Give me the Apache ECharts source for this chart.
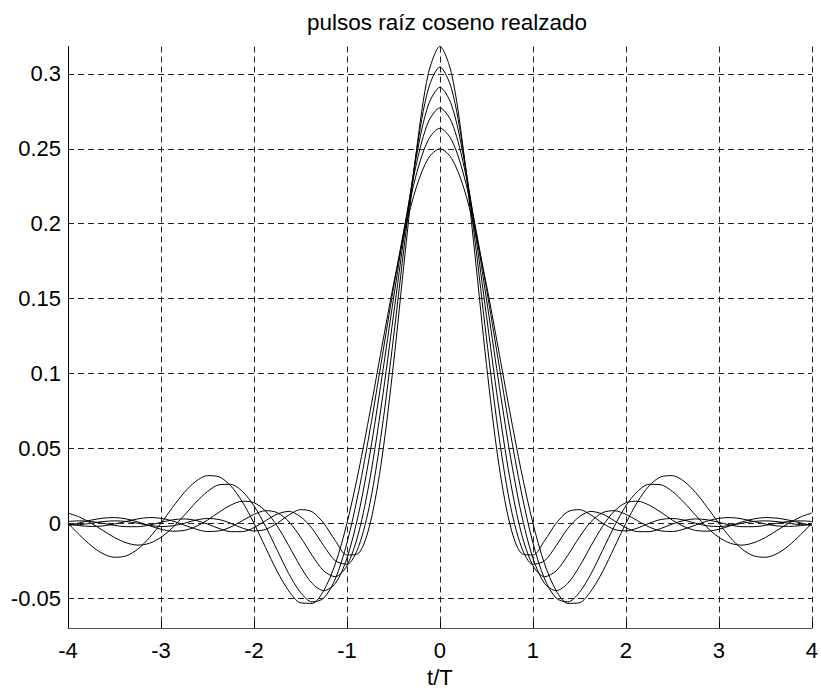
<!DOCTYPE html>
<html>
<head>
<meta charset="utf-8">
<script src="https://cdn.jsdelivr.net/npm/echarts@6/dist/echarts.min.js"></script>
<style>
html,body{margin:0;padding:0;background:#fff;}
#chart{width:821px;height:693px;}
</style>
</head>
<body>
<div id="chart"></div>
<script>
// t/T sample positions
const tValues = [-4, -3.875, -3.75, -3.625, -3.5, -3.375, -3.25, -3.125, -3, -2.875, -2.75, -2.625, -2.5, -2.375, -2.25, -2.125, -2, -1.875, -1.75, -1.625, -1.5, -1.375, -1.25, -1.125, -1, -0.875, -0.75, -0.625, -0.5, -0.375, -0.25, -0.125, 0, 0.125, 0.25, 0.375, 0.5, 0.625, 0.75, 0.875, 1, 1.125, 1.25, 1.375, 1.5, 1.625, 1.75, 1.875, 2, 2.125, 2.25, 2.375, 2.5, 2.625, 2.75, 2.875, 3, 3.125, 3.25, 3.375, 3.5, 3.625, 3.75, 3.875, 4];

// pulse values (roll-off 0, 0.2, 0.4, 0.6, 0.8, 1)
const pulseR00 = [0, -0.0079, -0.0150, -0.0203, -0.0227, -0.0218, -0.0173, -0.0097, 0, 0.0106, 0.0205, 0.0280, 0.0318, 0.0310, 0.0250, 0.0143, 0, -0.0162, -0.0322, -0.0452, -0.0531, -0.0535, -0.0450, -0.0271, 0, 0.0348, 0.0750, 0.1176, 0.1592, 0.1961, 0.2251, 0.2436, 0.2500, 0.2436, 0.2251, 0.1961, 0.1592, 0.1176, 0.0750, 0.0348, 0, -0.0271, -0.0450, -0.0535, -0.0531, -0.0452, -0.0322, -0.0162, 0, 0.0143, 0.0250, 0.0310, 0.0318, 0.0280, 0.0205, 0.0106, 0, -0.0097, -0.0173, -0.0218, -0.0227, -0.0203, -0.0150, -0.0079, 0];
const pulseR02 = [0.0068, 0.0041, 0, -0.0048, -0.0095, -0.0130, -0.0146, -0.0134, -0.0094, -0.0029, 0.0053, 0.0139, 0.0212, 0.0257, 0.0260, 0.0213, 0.0116, -0.0021, -0.0180, -0.0337, -0.0462, -0.0525, -0.0500, -0.0371, -0.0131, 0.0210, 0.0631, 0.1097, 0.1568, 0.1996, 0.2339, 0.2560, 0.2637, 0.2560, 0.2339, 0.1996, 0.1568, 0.1097, 0.0631, 0.0210, -0.0131, -0.0371, -0.0500, -0.0525, -0.0462, -0.0337, -0.0180, -0.0021, 0.0116, 0.0213, 0.0260, 0.0257, 0.0212, 0.0139, 0.0053, -0.0029, -0.0094, -0.0134, -0.0146, -0.0130, -0.0095, -0.0048, 0, 0.0041, 0.0068];
const pulseR04 = [-0.0015, 0.0003, 0.0021, 0.0034, 0.0038, 0.0029, 0.0009, -0.0016, -0.0040, -0.0053, -0.0048, -0.0022, 0.0021, 0.0074, 0.0121, 0.0147, 0.0137, 0.0081, -0.0019, -0.0150, -0.0289, -0.0401, -0.0450, -0.0402, -0.0233, 0.0064, 0.0476, 0.0971, 0.1498, 0.1997, 0.2408, 0.2679, 0.2773, 0.2679, 0.2408, 0.1997, 0.1498, 0.0971, 0.0476, 0.0064, -0.0233, -0.0402, -0.0450, -0.0401, -0.0289, -0.0150, -0.0019, 0.0081, 0.0137, 0.0147, 0.0121, 0.0074, 0.0021, -0.0022, -0.0048, -0.0053, -0.0040, -0.0016, 0.0009, 0.0029, 0.0038, 0.0034, 0.0021, 0.0003, -0.0015];
const pulseR06 = [-0.0004, -0.0016, -0.0021, -0.0018, -0.0005, 0.0012, 0.0029, 0.0038, 0.0033, 0.0015, -0.0012, -0.0039, -0.0055, -0.0051, -0.0025, 0.0017, 0.0059, 0.0084, 0.0071, 0.0011, -0.0092, -0.0214, -0.0318, -0.0357, -0.0283, -0.0065, 0.0307, 0.0808, 0.1386, 0.1964, 0.2459, 0.2792, 0.2910, 0.2792, 0.2459, 0.1964, 0.1386, 0.0808, 0.0307, -0.0065, -0.0283, -0.0357, -0.0318, -0.0214, -0.0092, 0.0011, 0.0071, 0.0084, 0.0059, 0.0017, -0.0025, -0.0051, -0.0055, -0.0039, -0.0012, 0.0015, 0.0033, 0.0038, 0.0029, 0.0012, -0.0005, -0.0018, -0.0021, -0.0016, -0.0004];
const pulseR08 = [0.0012, 0.0016, 0.0012, 0.0000, -0.0014, -0.0023, -0.0023, -0.0012, 0.0006, 0.0023, 0.0029, 0.0019, -0.0005, -0.0035, -0.0056, -0.0056, -0.0029, 0.0017, 0.0061, 0.0079, 0.0044, -0.0035, -0.0150, -0.0251, -0.0274, -0.0156, 0.0142, 0.0622, 0.1237, 0.1898, 0.2490, 0.2900, 0.3046, 0.2900, 0.2490, 0.1898, 0.1237, 0.0622, 0.0142, -0.0156, -0.0274, -0.0251, -0.0150, -0.0035, 0.0044, 0.0079, 0.0061, 0.0017, -0.0029, -0.0056, -0.0056, -0.0035, -0.0005, 0.0019, 0.0029, 0.0023, 0.0006, -0.0012, -0.0023, -0.0023, -0.0014, 0.0000, 0.0012, 0.0016, 0.0012];
const pulseR10 = [-0.0012, -0.0009, 0, 0.0011, 0.0016, 0.0012, 0, -0.0014, -0.0022, -0.0017, 0, 0.0021, 0.0032, 0.0025, 0, -0.0032, -0.0051, -0.0041, 0, 0.0055, 0.0091, 0.0077, 0, -0.0117, -0.0212, -0.0200, 0, 0.0429, 0.1061, 0.1801, 0.2500, 0.3001, 0.3183, 0.3001, 0.2500, 0.1801, 0.1061, 0.0429, 0, -0.0200, -0.0212, -0.0117, 0, 0.0077, 0.0091, 0.0055, 0, -0.0041, -0.0051, -0.0032, 0, 0.0025, 0.0032, 0.0021, 0, -0.0017, -0.0022, -0.0014, 0, 0.0012, 0.0016, 0.0011, 0, -0.0009, -0.0012];

const yTicks = [-0.05, 0, 0.05, 0.1, 0.15, 0.2, 0.25, 0.3];
const xTicks = [-4, -3, -2, -1, 0, 1, 2, 3, 4];

const FONT = 'Liberation Sans, Arial, Helvetica, sans-serif';
const allSeries = [pulseR00, pulseR02, pulseR04, pulseR06, pulseR08, pulseR10];

const series = allSeries.map((vals, i) => {
  const s = {
    type: 'line',
    data: tValues.map((t, j) => [t, vals[j]]),
    showSymbol: false,
    symbol: 'none',
    smooth: 0.3,
    lineStyle: { color: '#000', width: 1 },
    silent: true,
    animation: false,
    z: 3
  };
  if (i === 0) {
    s.markLine = {
      silent: true,
      symbol: ['none', 'none'],
      animation: false,
      label: { show: false },
      lineStyle: { color: '#222', width: 1, type: [6, 4] },
      data: yTicks.map(v => ({ yAxis: v }))
    };
  }
  return s;
});

const chart = echarts.init(document.getElementById('chart'), null, { renderer: 'svg' });
chart.setOption({
  animation: false,
  backgroundColor: '#fff',
  title: {
    text: 'pulsos raíz coseno realzado',
    left: 442,
    top: 6,
    textAlign: 'center',
    textStyle: { fontFamily: FONT, fontSize: 22.5, fontWeight: 'normal', color: '#000' }
  },
  grid: { left: 68, right: 8, top: 46.5, bottom: 58, containLabel: false },
  xAxis: {
    type: 'value',
    min: -4, max: 4, interval: 1,
    name: 't/T',
    nameLocation: 'middle',
    nameGap: 35,
    nameTextStyle: { fontFamily: FONT, fontSize: 22, color: '#000' },
    axisLine: { show: true, onZero: false, lineStyle: { color: '#555', width: 1 } },
    axisTick: { show: true, inside: true, length: 6, lineStyle: { color: '#000' } },
    axisLabel: { fontFamily: FONT, fontSize: 22, color: '#000', margin: 11, formatter: v => String(v) },
    splitLine: { show: true, lineStyle: { color: '#222', width: 1, type: [6, 4] } }
  },
  yAxis: {
    type: 'value',
    min: -0.07, max: 0.3183,
    axisLine: { show: true, onZero: false, lineStyle: { color: '#000', width: 1 } },
    axisTick: { show: true, inside: true, length: 6, customValues: yTicks, lineStyle: { color: '#000' } },
    axisLabel: { fontFamily: FONT, fontSize: 22, color: '#000', margin: 7, customValues: yTicks, formatter: v => String(v) },
    splitLine: { show: false }
  },
  series: series
});
</script>
</body>
</html>
